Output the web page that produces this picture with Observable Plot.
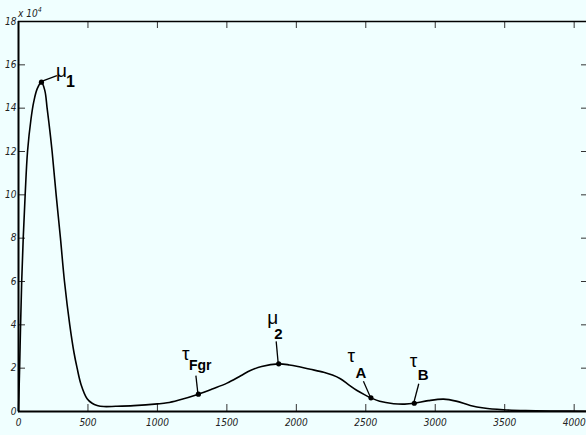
<!DOCTYPE html>
<html>
<head>
<meta charset="utf-8">
<script src="https://cdn.jsdelivr.net/npm/d3@7"></script>
<script src="https://cdn.jsdelivr.net/npm/@observablehq/plot@0.6"></script>
<style>
  html, body { margin: 0; padding: 0; background: #f0ffff; }
  #chart svg { display: block; overflow: visible; }
</style>
</head>
<body>
<div id="chart"></div>
<script>
// ---- data (y values in units of 10^4) ----
const curveX = [0, 8, 15, 23, 34, 48, 65, 90, 110, 135, 165, 190, 206, 225, 242, 271, 302, 331, 369, 400, 422, 450, 494, 530, 566, 614, 700, 830, 1000, 1070, 1150, 1295, 1400, 1501, 1600, 1669, 1750, 1873, 1950, 2029, 2100, 2197, 2260, 2317, 2380, 2437, 2490, 2537, 2600, 2700, 2780, 2849, 2950, 3060, 3150, 3252, 3350, 3491, 3650, 3875, 4096];
const curveY = [0, 2, 4, 6, 8, 10, 12, 13.5, 14.3, 14.9, 15.2, 14.8, 14, 13, 12, 10, 8, 6, 4, 2.7, 2, 1.25, 0.59, 0.38, 0.28, 0.23, 0.24, 0.27, 0.35, 0.4, 0.52, 0.8, 1.05, 1.31, 1.65, 1.89, 2.08, 2.2, 2.15, 2.05, 1.95, 1.81, 1.68, 1.51, 1.22, 0.97, 0.78, 0.63, 0.47, 0.36, 0.34, 0.38, 0.5, 0.57, 0.48, 0.28, 0.16, 0.08, 0.04, 0.02, 0.01];

const markerX = [165, 1295, 1873, 2537, 2849];
const markerY = [15.2, 0.8, 2.2, 0.63, 0.38];
const markerGreek = ["μ", "τ", "μ", "τ", "τ"];
const markerSub = ["1", "Fgr", "2", "A", "B"];

const xTicks = [0, 500, 1000, 1500, 2000, 2500, 3000, 3500, 4000];
const yTicks = [0, 2, 4, 6, 8, 10, 12, 14, 16, 18];
const yExponent = "4";

// ---- layout (pixel offsets of leader lines and labels from each marker) ----
const labelLayout = [
  {lx: 16, ly: -6,  gx: 15,  gy: -5,  sx: 25,  sy: 5,   ss: 16},
  {lx: -2, ly: -18, gx: -16, gy: -34, sx: -9,  sy: -24, ss: 14},
  {lx: -2, ly: -22, gx: -11, gy: -39, sx: -4,  sy: -24, ss: 15},
  {lx: -7, ly: -16, gx: -23, gy: -35, sx: -15, sy: -19, ss: 15},
  {lx: 5,  ly: -19, gx: -4,  gy: -36, sx: 4,   sy: -23, ss: 15}
];

const curve = curveX.map((x, i) => ({x, y: curveY[i]}));
const markers = markerX.map((x, i) => ({x, y: markerY[i], g: markerGreek[i], s: markerSub[i]}));

const W = 586, H = 435, ML = 18, MT = 21, MB = 24;
const frameW = W - ML, frameH = H - MT - MB;
const tickLen = 7;
const tickFont = "'Liberation Sans Narrow', 'Arial Narrow', 'DejaVu Sans Condensed', 'Liberation Sans', sans-serif";

const plot = Plot.plot({
  width: W,
  height: H,
  marginLeft: ML,
  marginTop: MT,
  marginBottom: MB,
  marginRight: 0,
  x: {domain: [0, 4096], range: [ML, 587]},
  y: {domain: [0, 18], range: [H - MB, MT]},
  style: {background: "transparent", fontFamily: tickFont, fontSize: "10px", fontStyle: "italic", color: "#222", overflow: "visible"},
  marks: [
    // inward ticks
    Plot.ruleX(xTicks, {stroke: "#333", strokeWidth: 1, insetTop: frameH - tickLen}),
    Plot.ruleX(xTicks, {stroke: "#333", strokeWidth: 1, insetBottom: frameH - tickLen}),
    Plot.ruleY(yTicks, {stroke: "#333", strokeWidth: 1, insetRight: frameW - tickLen}),
    Plot.ruleY(yTicks, {stroke: "#333", strokeWidth: 1, insetLeft: frameW - 5}),
    // axis box
    Plot.ruleY([18], {stroke: "black", strokeWidth: 1.3}),
    Plot.ruleY([0], {stroke: "black", strokeWidth: 2}),
    Plot.ruleX([0], {stroke: "black", strokeWidth: 2}),
    // tick labels
    Plot.axisX({ticks: xTicks, tickSize: 0, tickPadding: 7, tickFormat: d => String(d), label: null}),
    Plot.axisY({ticks: yTicks, tickSize: 0, tickPadding: 2, tickFormat: d => String(d), label: null}),
    // data
    Plot.line(curve, {x: "x", y: "y", curve: "catmull-rom", stroke: "black", strokeWidth: 1.6}),
    Plot.dot(markers, {x: "x", y: "y", r: 2.6, fill: "black", stroke: "none"})
  ]
});

document.getElementById("chart").append(plot);

// ---- annotations using the plot's own scales ----
const sx = plot.scale("x"), sy = plot.scale("y");
const svg = d3.select(plot);
const g = svg.append("g")
  .attr("font-family", "'Liberation Sans', Arial, sans-serif")
  .attr("font-style", "normal")
  .attr("text-anchor", "start")
  .attr("fill", "black");

markers.forEach((m, i) => {
  const L = labelLayout[i];
  const px = sx.apply(m.x), py = sy.apply(m.y);
  g.append("line")
    .attr("x1", px).attr("y1", py)
    .attr("x2", px + L.lx).attr("y2", py + L.ly)
    .attr("stroke", "black").attr("stroke-width", 1.3);
  g.append("text")
    .attr("x", px + L.gx).attr("y", py + L.gy)
    .attr("font-size", 19).attr("font-weight", "normal")
    .text(m.g);
  g.append("text")
    .attr("x", px + L.sx).attr("y", py + L.sy)
    .attr("font-size", L.ss).attr("font-weight", "bold")
    .text(m.s);
});

// exponent label "x 10^4" above the y axis
const ex = svg.append("text")
  .attr("x", sx.apply(0)).attr("y", sy.apply(18) - 4)
  .attr("text-anchor", "start")
  .attr("font-family", tickFont).attr("font-style", "italic")
  .attr("font-size", 10).attr("fill", "#222");
ex.append("tspan").text("x 10");
ex.append("tspan").attr("font-size", 7).attr("dy", -5).text(yExponent);
</script>
</body>
</html>
